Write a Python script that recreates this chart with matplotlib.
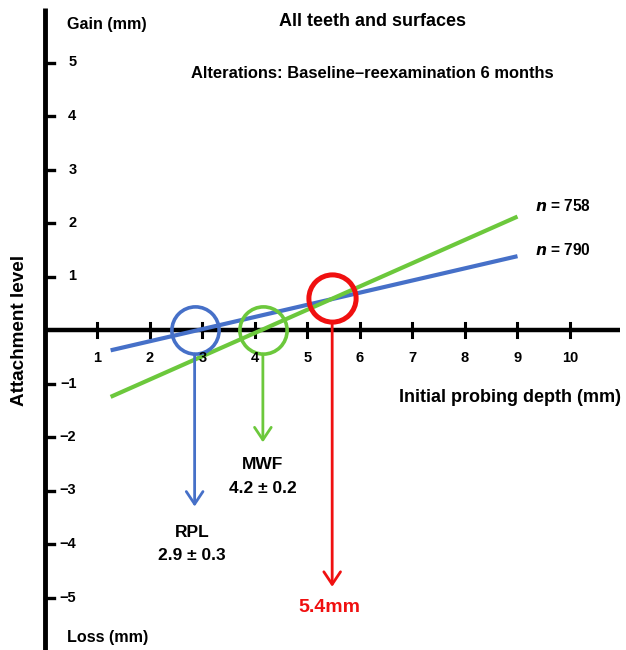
import matplotlib.pyplot as plt

plt.rcParams['font.family'] = ['Liberation Sans', 'DejaVu Sans']

# regression lines (initial probing depth vs attachment level change)
rpl_x = [1.25, 9.0]
rpl_y = [-0.38, 1.38]
mwf_x = [1.25, 9.0]
mwf_y = [-1.25, 2.12]

# critical probing depths (zero crossings) and the point where lines meet
rpl_cpd = 2.85
mwf_cpd = 4.15
meet_x, meet_y = 5.47, 0.60

# arrow tips (y) below each circle
rpl_tip = -3.3
mwf_tip = -2.1
meet_tip = -4.8

x_ticks = [1, 2, 3, 4, 5, 6, 7, 8, 9, 10]
y_ticks = [5, 4, 3, 2, 1, -1, -2, -3, -4, -5]

BLUE = '#4670c8'
GREEN = '#6cc83c'
RED = '#f01010'

fig = plt.figure(figsize=(6.26, 6.5), dpi=100)
ax = fig.add_axes([0, 0, 1, 1])
ax.set_xlim(-45 / 52.5, (626 - 45) / 52.5)
ax.set_ylim(-(650 - 330) / 53.5, 330 / 53.5)
ax.axis('off')

# axes lines
ax.plot([0, 0], [-6.1, 6.02], color='black', lw=3.5, solid_capstyle='butt')
ax.plot([0, 10.95], [0, 0], color='black', lw=3.2, solid_capstyle='butt')

# ticks on x axis
for t in x_ticks:
    ax.plot([t, t], [-0.14, 0.14], color='black', lw=2.2)
    ax.text(t, -0.52, str(t), ha='center', va='center', fontsize=10.5, fontweight='bold')

# ticks on y axis
for t in y_ticks:
    ax.plot([0, 0.18], [t, t], color='black', lw=2.4)
    lab = str(t).replace('-', '\u2212')
    ax.text(0.6, t, lab, ha='right', va='center', fontsize=10.5, fontweight='bold')

# regression lines
ax.plot(rpl_x, rpl_y, color=BLUE, lw=3, solid_capstyle='butt')
ax.plot(mwf_x, mwf_y, color=GREEN, lw=3, solid_capstyle='butt')

# circles
ax.plot([rpl_cpd], [0], 'o', ms=34, mfc='none', mec=BLUE, mew=2.6)
ax.plot([mwf_cpd], [0], 'o', ms=34, mfc='none', mec=GREEN, mew=2.6)
ax.plot([meet_x], [meet_y], 'o', ms=34, mfc='none', mec=RED, mew=3.6)

r = 0.45
style = '->, head_width=0.3, head_length=0.45'
for x0, y0, tip, col in [(rpl_cpd, 0, rpl_tip, BLUE),
                         (mwf_cpd, 0, mwf_tip, GREEN),
                         (meet_x, meet_y, meet_tip, RED)]:
    ax.annotate('', xy=(x0, tip), xytext=(x0, y0 - r),
                arrowprops=dict(arrowstyle=style, color=col, lw=2,
                                mutation_scale=20, shrinkA=0, shrinkB=0))

# labels
bold = dict(fontweight='bold', ha='center', va='center')
ax.text(rpl_cpd - 0.05, -3.78, 'RPL', fontsize=12.5, **bold)
ax.text(rpl_cpd - 0.05, -4.22, '2.9 \u00b1 0.3', fontsize=12.5, **bold)
ax.text(mwf_cpd, -2.52, 'MWF', fontsize=12.5, **bold)
ax.text(mwf_cpd, -2.97, '4.2 \u00b1 0.2', fontsize=12.5, **bold)
ax.text(meet_x - 0.05, -5.18, '5.4mm', fontsize=14, color=RED, **bold)

ax.text(9.33, 2.31, r'$\boldsymbol{n}$ = 758', fontsize=11.2, fontweight='bold', va='center')
ax.text(9.33, 1.5, r'$\boldsymbol{n}$ = 790', fontsize=11.2, fontweight='bold', va='center')

ax.text(0.42, 5.71, 'Gain (mm)', fontsize=11.6, fontweight='bold', va='center')
ax.text(0.42, -5.74, 'Loss (mm)', fontsize=11.6, fontweight='bold', va='center')
ax.text(6.23, 5.76, 'All teeth and surfaces', fontsize=13, fontweight='bold', ha='center', va='center')
ax.text(6.23, 4.8, 'Alterations: Baseline\u2013reexamination 6 months', fontsize=11.9,
        fontweight='bold', ha='center', va='center')
ax.text(10.98, -1.26, 'Initial probing depth (mm)', fontsize=13, fontweight='bold',
        ha='right', va='center')
ax.text(-0.48, 0.0, 'Attachment level', fontsize=13.6, fontweight='bold', rotation=90,
        ha='center', va='center')

fig.savefig('out.png', dpi=100)
